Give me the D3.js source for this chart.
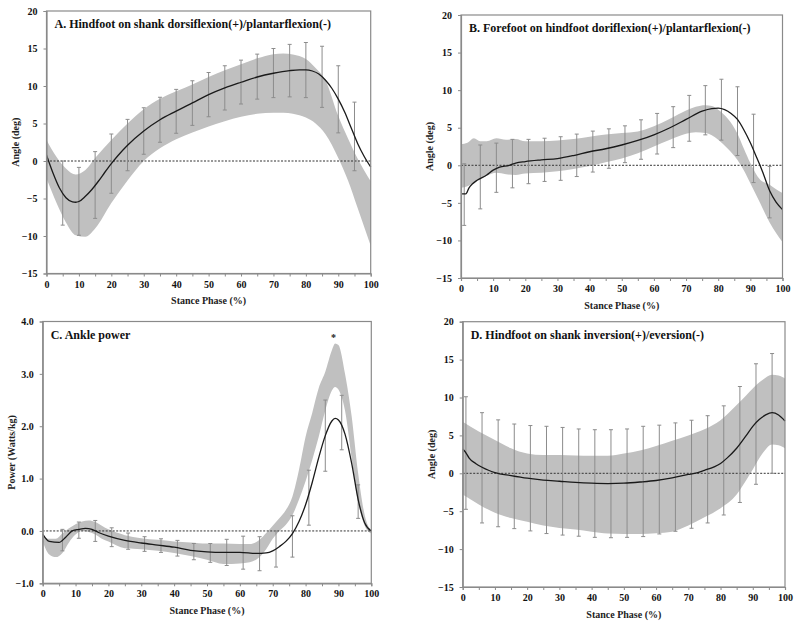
<!DOCTYPE html>
<html>
<head>
<meta charset="utf-8">
<script src="https://cdn.jsdelivr.net/npm/d3@7"></script>
<style>
  html, body { margin: 0; padding: 0; background: #fff; }
  svg { display: block; }
  text { font-family: "Liberation Serif", "Times New Roman", serif; font-weight: bold; }
</style>
</head>
<body>
<svg id="chart" width="800" height="627"></svg>
<script>
// ---------------- DATA ----------------
const xTicks = [0,10,20,30,40,50,60,70,80,90,100];
const xMinorTicks = [5,15,25,35,45,55,65,75,85,95];
const angleTicks = [-15,-10,-5,0,5,10,15,20];
const powerTicks = [-1,0,1,2,3,4];

// Panel A: Hindfoot on shank dorsiflexion/plantarflexion
const aMeanX = [0,2,4,6,8,9,10,12,14,16,18,20,22,25,30,35,40,45,50,55,60,65,70,75,78,80,82,84,86,88,90,92,94,96,98,100];
const aMean  = [0.8,-1.6,-3.6,-4.9,-5.45,-5.5,-5.4,-4.7,-3.8,-2.7,-1.5,-0.35,0.7,2.1,4.0,5.5,6.65,7.75,8.85,9.75,10.5,11.2,11.7,12.05,12.15,12.15,12.0,11.6,10.8,9.7,8.25,6.5,4.4,2.3,0.6,-0.8];
const aBandX = [0,3,6,9,12,15,20,25,30,35,40,45,50,55,60,65,70,73,76,80,83,86,90,93,96,100];
const aBandHi = [2.8,0.6,-1.0,-1.8,-1.2,0.4,2.8,5.0,6.9,8.3,9.3,10.2,11.2,12.1,12.9,13.7,14.25,14.35,14.2,13.6,12.4,10.8,6.0,3.0,0.3,-2.7];
const aBandLo = [-2.3,-5.5,-8.2,-9.9,-10.1,-9.0,-5.6,-2.6,0.0,1.7,2.9,3.8,4.6,5.3,5.9,6.3,6.45,6.45,6.3,5.8,5.0,3.6,0.4,-2.6,-6.3,-11.3];
const aBarX  = [5,10,15,20,25,30,35,40,45,50,55,60,65,70,75,80,85,90,95];
const aBarHi = [0.0,-0.85,1.25,3.6,5.55,7.1,8.5,9.55,10.7,11.8,12.7,13.45,14.25,15.0,15.55,15.8,15.3,12.7,7.85];
const aBarLo = [-8.55,-9.9,-7.65,-4.3,-1.3,0.9,2.5,3.7,4.75,5.9,6.8,7.6,8.25,8.45,8.55,8.45,7.15,3.75,-1.3];

// Panel B: Forefoot on hindfoot dorsiflexion/plantarflexion
const bMeanX = [0,1.5,2.5,3.5,5,8,10,12,15,17,20,25,30,35,40,45,50,55,60,65,70,75,78,80,82,84,86,88,90,92,93,94,96,98,100];
const bMean  = [-3.8,-3.8,-3.0,-2.5,-2.0,-1.3,-0.65,-0.25,0.0,0.3,0.5,0.72,0.9,1.3,1.8,2.2,2.7,3.3,4.05,5.0,6.1,7.2,7.55,7.6,7.4,6.9,6.1,4.7,3.0,1.0,0.0,-1.1,-3.4,-4.9,-5.9];
const bBandX = [0,2,4,6,8,11,14,17,20,25,30,35,40,45,50,55,60,65,70,73,76,78,80,83,86,88,90,93,96,98,100];
const bBandHi = [2.8,3.0,3.6,3.2,3.2,3.6,3.4,3.5,3.2,3.2,3.3,3.5,3.8,4.1,4.3,4.5,5.2,6.2,7.3,7.8,8.0,7.9,7.4,6.2,4.2,2.2,0.3,-1.9,-2.6,-3.2,-3.7];
const bBandLo = [-3.0,-2.8,-2.3,-1.8,-1.4,-1.0,-1.2,-1.3,-1.1,-1.0,-0.8,-0.5,-0.1,0.4,0.9,1.6,2.5,3.4,4.2,4.4,4.3,4.0,3.4,2.2,0.7,-0.7,-2.4,-5.0,-7.6,-9.0,-10.2];
const bBarX  = [1,6,11,16,21,26,31,36,41,46,51,56,61,66,71,76,81,86,91,96];
const bBarHi = [0.2,2.7,2.95,3.45,3.45,3.6,3.8,4.15,4.55,4.85,5.25,6.05,6.9,7.8,9.3,10.6,11.45,10.45,6.8,-0.15];
const bBarLo = [-8.0,-5.8,-3.6,-3.0,-2.45,-2.15,-2.0,-1.5,-0.9,-0.4,0.35,0.8,1.5,2.35,3.2,4.05,3.35,1.3,-2.3,-7.0];

// Panel C: Ankle power
const cMeanX = [0,2,5,7,9,11,13,15,17,20,25,30,35,40,45,50,55,60,65,68,70,72,74,76,78,80,82,84,86,88,89,90,92,94,96,98,100];
const cMean  = [-0.06,-0.2,-0.22,-0.12,0.0,0.03,0.05,0.03,-0.03,-0.1,-0.18,-0.23,-0.27,-0.31,-0.37,-0.4,-0.41,-0.41,-0.43,-0.42,-0.38,-0.3,-0.2,-0.05,0.18,0.5,0.92,1.4,1.82,2.1,2.15,2.12,1.85,1.3,0.6,0.15,0.0];
const cBandX = [0,2,4,6,8,10,12,14,16,18,20,25,30,35,40,45,50,55,60,63,66,68,70,72,74,76,78,80,82,84,86,88,89,90,92,94,96,98,100];
const cBandHi = [-0.1,-0.15,-0.15,-0.05,0.05,0.13,0.18,0.2,0.17,0.1,0.03,-0.08,-0.14,-0.17,-0.2,-0.22,-0.24,-0.24,-0.25,-0.25,-0.17,-0.04,0.1,0.24,0.4,0.66,1.17,1.8,2.25,2.73,3.04,3.45,3.58,3.55,3.0,2.2,1.1,0.3,0.0];
const cBandLo = [-0.2,-0.45,-0.5,-0.42,-0.22,-0.07,0.0,-0.02,-0.07,-0.15,-0.2,-0.33,-0.35,-0.38,-0.42,-0.48,-0.55,-0.63,-0.62,-0.6,-0.5,-0.35,-0.15,0.0,0.12,0.3,0.6,0.95,1.35,1.8,2.3,2.68,2.75,2.7,2.3,1.4,0.55,0.1,-0.05];
const cBarX  = [6,11,16,21,26,31,36,41,46,51,56,61,66,71,76,81,86,91,96];
const cBarHi = [0.03,0.17,0.2,0.06,-0.04,-0.11,-0.15,-0.18,-0.24,-0.24,-0.16,-0.1,-0.11,0.0,0.29,1.16,2.5,2.59,0.88];
const cBarLo = [-0.38,-0.14,-0.2,-0.3,-0.35,-0.39,-0.41,-0.48,-0.55,-0.6,-0.66,-0.73,-0.76,-0.69,-0.5,0.11,1.14,1.55,0.24];
const cStar = {x: 88.5, y: 3.72, label: "*"};

// Panel D: Hindfoot on shank inversion/eversion
const dMeanX = [0,1,2,4,6,8,10,15,20,25,30,35,40,45,50,55,60,65,70,72,75,78,80,82,85,88,90,92,94,96,98,100];
const dMean  = [3.2,2.7,2.0,1.3,0.8,0.4,0.1,-0.3,-0.65,-0.9,-1.05,-1.2,-1.3,-1.35,-1.3,-1.15,-0.95,-0.6,-0.15,0.0,0.4,0.85,1.3,2.0,3.3,5.0,6.2,7.1,7.7,8.0,7.7,6.9];
const dBandX = [0,5,10,15,20,25,30,35,40,45,50,55,60,65,70,75,80,85,88,90,93,96,98,100];
const dBandHi = [6.8,5.5,4.4,3.3,2.6,2.4,2.4,2.35,2.3,2.3,2.6,3.0,3.6,4.3,5.0,5.8,7.0,9.0,10.3,11.2,12.3,13.0,12.9,12.5];
const dBandLo = [-2.8,-4.1,-5.2,-5.9,-6.4,-6.9,-7.2,-7.4,-7.7,-7.95,-8.0,-8.0,-7.9,-7.7,-6.9,-5.8,-4.6,-2.8,-0.9,0.5,2.6,3.8,3.7,3.3];
const dBarX  = [1,6,11,16,21,26,31,36,41,46,51,56,61,66,71,76,81,86,91,96];
const dBarHi = [10.1,8.0,7.05,6.5,6.3,6.2,6.05,5.85,5.75,5.75,5.85,6.2,6.35,6.65,7.0,7.6,8.9,11.45,14.45,15.8];
const dBarLo = [-4.75,-6.55,-7.05,-7.3,-7.6,-7.95,-8.15,-8.3,-8.45,-8.5,-8.45,-8.35,-8.0,-7.65,-7.25,-6.55,-5.5,-3.85,-1.45,0.0];

// ---------------- DRAWING ----------------
const svg = d3.select("#chart");

const panels = [
  {title: "A. Hindfoot on shank dorsiflexion(+)/plantarflexion(-)", ylab: "Angle (deg)",
   box: {l: 46.5, r: 370.7, t: 11, b: 273.5}, ydom: [-15, 20], yticks: angleTicks, fmt: d3.format("d"),
   mx: aMeanX, my: aMean, bx: aBandX, bhi: aBandHi, blo: aBandLo, ex: aBarX, ehi: aBarHi, elo: aBarLo},
  {title: "B.  Forefoot on hindfoot doriflexion(+)/plantarflexion(-)", ylab: "Angle (deg)",
   box: {l: 461, r: 782.5, t: 15, b: 278}, ydom: [-15, 20], yticks: angleTicks, fmt: d3.format("d"),
   mx: bMeanX, my: bMean, bx: bBandX, bhi: bBandHi, blo: bBandLo, ex: bBarX, ehi: bBarHi, elo: bBarLo},
  {title: "C.  Ankle power", ylab: "Power (Watts/kg)",
   box: {l: 42.7, r: 371.3, t: 321.5, b: 583.3}, ydom: [-1, 4], yticks: powerTicks, fmt: d3.format(".1f"),
   mx: cMeanX, my: cMean, bx: cBandX, bhi: cBandHi, blo: cBandLo, ex: cBarX, ehi: cBarHi, elo: cBarLo, star: cStar},
  {title: "D. Hindfoot on shank inversion(+)/eversion(-)", ylab: "Angle (deg)",
   box: {l: 462.7, r: 785, t: 321.7, b: 587}, ydom: [-15, 20], yticks: angleTicks, fmt: d3.format("d"),
   mx: dMeanX, my: dMean, bx: dBandX, bhi: dBandHi, blo: dBandLo, ex: dBarX, ehi: dBarHi, elo: dBarLo}
];

const frameColor = "#8a8a8a";

panels.forEach(p => {
  const B = p.box;
  const x = d3.scaleLinear().domain([0, 100]).range([B.l, B.r]);
  const y = d3.scaleLinear().domain(p.ydom).range([B.b, B.t]);
  const g = svg.append("g");

  // band
  const bandData = p.bx.map((v, i) => ({x: v, hi: p.bhi[i], lo: p.blo[i]}));
  g.append("path")
    .datum(bandData)
    .attr("fill", "#c0c0c0")
    .attr("d", d3.area().x(d => x(d.x)).y0(d => y(d.lo)).y1(d => y(d.hi)).curve(d3.curveMonotoneX));

  // zero line
  g.append("line")
    .attr("x1", x(0)).attr("x2", x(100)).attr("y1", y(0)).attr("y2", y(0))
    .attr("stroke", "#333").attr("stroke-width", 1).attr("stroke-dasharray", "2,1.5");

  // error bars
  const bars = p.ex.map((v, i) => ({x: v, hi: p.ehi[i], lo: p.elo[i]}));
  const eb = g.append("g").attr("stroke", "#8c8c8c").attr("stroke-width", 1);
  eb.selectAll("line.v").data(bars).join("line")
    .attr("x1", d => x(d.x)).attr("x2", d => x(d.x))
    .attr("y1", d => y(d.hi)).attr("y2", d => y(d.lo));
  eb.selectAll("line.t").data(bars).join("line")
    .attr("x1", d => x(d.x) - 2).attr("x2", d => x(d.x) + 2)
    .attr("y1", d => y(d.hi)).attr("y2", d => y(d.hi));
  eb.selectAll("line.b").data(bars).join("line")
    .attr("x1", d => x(d.x) - 2).attr("x2", d => x(d.x) + 2)
    .attr("y1", d => y(d.lo)).attr("y2", d => y(d.lo));

  // mean line
  const meanData = p.mx.map((v, i) => ({x: v, y: p.my[i]}));
  g.append("path")
    .datum(meanData)
    .attr("fill", "none").attr("stroke", "#1a1a1a").attr("stroke-width", 1.3)
    .attr("d", d3.line().x(d => x(d.x)).y(d => y(d.y)).curve(d3.curveMonotoneX));

  // frame
  g.append("rect")
    .attr("x", B.l).attr("y", B.t).attr("width", B.r - B.l).attr("height", B.b - B.t)
    .attr("fill", "none").attr("stroke", frameColor).attr("stroke-width", 1.2);

  // axes
  const xa = g.append("g").attr("transform", `translate(0,${B.b})`)
    .call(d3.axisBottom(x).tickValues(xTicks).tickSize(3).tickPadding(4).tickFormat(d3.format("d")));
  g.append("g").attr("transform", `translate(0,${B.b})`)
    .call(d3.axisBottom(x).tickValues(xMinorTicks).tickSize(3).tickFormat(""))
    .call(s => s.select(".domain").remove())
    .selectAll("line").attr("stroke", frameColor);
  const ya = g.append("g").attr("transform", `translate(${B.l},0)`)
    .call(d3.axisLeft(y).tickValues(p.yticks).tickSize(3).tickPadding(6).tickFormat(p.fmt));
  [xa, ya].forEach(a => {
    a.select(".domain").attr("stroke", frameColor).attr("stroke-width", 1.2);
    a.selectAll(".tick line").attr("stroke", frameColor);
    a.selectAll(".tick text")
      .attr("fill", "#111").style("font-size", "10px")
      .style("font-family", "'Liberation Serif', serif").style("font-weight", "bold");
  });

  // title
  g.append("text")
    .attr("x", B.l + 8).attr("y", B.t + 17)
    .attr("fill", "#111").style("font-size", "12px")
    .text(p.title);

  // axis labels
  g.append("text")
    .attr("x", (B.l + B.r) / 2).attr("y", B.b + 30.5)
    .attr("text-anchor", "middle").attr("fill", "#222").style("font-size", "10px")
    .text("Stance Phase (%)");
  const ylx = B.l - 28;
  g.append("text")
    .attr("transform", `translate(${ylx},${(B.t + B.b) / 2}) rotate(-90)`)
    .attr("text-anchor", "middle").attr("fill", "#222").style("font-size", "10px")
    .text(p.ylab);

  if (p.star) {
    g.append("text")
      .attr("x", x(p.star.x)).attr("y", y(p.star.y) + 5)
      .attr("text-anchor", "middle").attr("fill", "#222").style("font-size", "10px")
      .text(p.star.label);
  }
});
</script>
</body>
</html>
